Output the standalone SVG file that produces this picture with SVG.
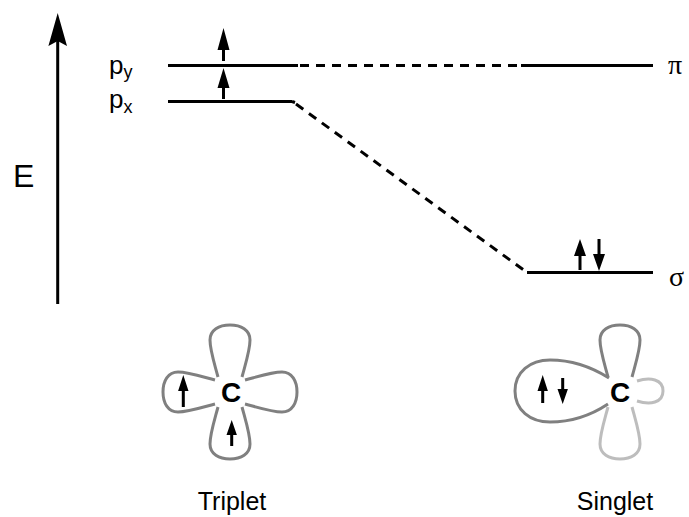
<svg xmlns="http://www.w3.org/2000/svg" width="689" height="517" viewBox="0 0 689 517">
  <style>
    .lvl { stroke: #000; stroke-width: 3; fill: none; }
    .dash { stroke: #000; stroke-width: 3; fill: none; stroke-dasharray: 9 7; }
    .spin { fill: #000; stroke: none; }
    .lab { font-family: "Liberation Sans", Arial, sans-serif; fill: #000; }
    .greek { font-family: "Liberation Serif", "Times New Roman", serif; fill: #000; font-size: 28px; }
    .lobe { fill: none; stroke: #808080; stroke-width: 3; }
    .light { stroke: #bdbdbd; }
    .atom { font-family: "Liberation Sans", Arial, sans-serif; font-weight: bold; font-size: 28px; text-anchor: middle; fill: #000; }
    .name { font-family: "Liberation Sans", Arial, sans-serif; font-size: 25px; text-anchor: middle; fill: #000; }
  </style>
  <defs>
    <!-- one p-orbital lobe pointing up from the nucleus at the origin -->
    <path id="petal" d="M -12 -15 C -16 -30, -20 -42, -20 -52 C -20 -62, -11 -67, 0 -67 C 11 -67, 20 -62, 20 -52 C 20 -42, 16 -30, 12 -15"/>
  </defs>

  <!-- energy axis -->
  <g id="axis">
    <line x1="57.7" y1="40" x2="57.7" y2="304" stroke="#000" stroke-width="3"/>
    <path d="M57.7 13 L67 46 L57.7 41 L48.4 46 Z" fill="#000"/>
    <text class="lab" x="13" y="187" font-size="32">E</text>
  </g>

  <!-- carbon p levels (triplet side) -->
  <g id="level-py">
    <line class="lvl" x1="168" y1="65.5" x2="298" y2="65.5"/>
    <text class="lab" x="109" y="74" font-size="26">p<tspan font-size="18" dy="4">y</tspan></text>
  </g>
  <g id="level-px">
    <line class="lvl" x1="168" y1="101.5" x2="292" y2="101.5"/>
    <text class="lab" x="109" y="108" font-size="26">p<tspan font-size="18" dy="5">x</tspan></text>
  </g>
  <g id="triplet-spins">
    <path class="spin" d="M223.5 28 L229.5 50 L225 50 L225 61 L222 61 L222 50 L217.5 50 Z"/>
    <path class="spin" d="M223.5 68 L229.5 88 L225 88 L225 99 L222 99 L222 88 L217.5 88 Z"/>
  </g>

  <!-- singlet levels -->
  <g id="level-pi">
    <line class="lvl" x1="521" y1="65.5" x2="653" y2="65.5"/>
    <text class="greek" x="668" y="74">π</text>
  </g>
  <g id="level-sigma">
    <line class="lvl" x1="527" y1="272.5" x2="653" y2="272.5"/>
    <text class="greek" x="669" y="286">σ</text>
    <path class="spin" d="M580 239 L586 256 L581.5 256 L581.5 270 L578.5 270 L578.5 256 L574 256 Z"/>
    <path class="spin" d="M597.5 239 L600.5 239 L600.5 254 L605 254 L599 271 L593 254 L597.5 254 Z"/>
  </g>

  <!-- correlation lines -->
  <g id="connectors">
    <line class="dash" x1="300" y1="65.5" x2="521" y2="65.5"/>
    <path class="lvl" d="M292 101.5 L295 102.5"/>
    <line class="dash" x1="296" y1="104" x2="525" y2="271"/>
  </g>

  <!-- triplet carbon: two singly occupied p orbitals -->
  <g id="triplet">
    <g transform="translate(230 392)">
      <use href="#petal" class="lobe"/>
      <use href="#petal" class="lobe" transform="rotate(90)"/>
      <use href="#petal" class="lobe" transform="rotate(180)"/>
      <use href="#petal" class="lobe" transform="rotate(270)"/>
      <text class="atom" x="1" y="10">C</text>
    </g>
    <path class="spin" d="M183.3 375 L188.5 391 L184.8 391 L184.8 407 L181.8 407 L181.8 391 L178.1 391 Z"/>
    <path class="spin" d="M231.7 420 L236.9 435 L233.2 435 L233.2 446 L230.2 446 L230.2 435 L226.5 435 Z"/>
    <text class="name" x="232" y="510">Triplet</text>
  </g>

  <!-- singlet carbon: filled sp2 lobe, empty p orbital -->
  <g id="singlet">
    <g transform="translate(620 392)">
      <use href="#petal" class="lobe"/>
      <use href="#petal" class="lobe light" transform="rotate(180)"/>
      <path class="lobe" d="M -11 -14 C -30 -26, -50 -32, -70 -32 C -90 -32, -105 -20, -105 -1 C -105 18, -90 30, -70 30 C -50 30, -30 24, -12 12"/>
      <path class="lobe light" d="M 17 -11 C 30 -15, 43 -13, 43 -1 C 43 11, 30 13, 17 9"/>
      <text class="atom" x="0" y="10">C</text>
    </g>
    <path class="spin" d="M542.7 375 L547.9 391 L544.2 391 L544.2 403 L541.2 403 L541.2 391 L537.5 391 Z"/>
    <path class="spin" d="M561.2 378 L564.2 378 L564.2 389 L567.9 389 L562.7 404 L557.5 389 L561.2 389 Z"/>
    <text class="name" x="615" y="510">Singlet</text>
  </g>
</svg>
